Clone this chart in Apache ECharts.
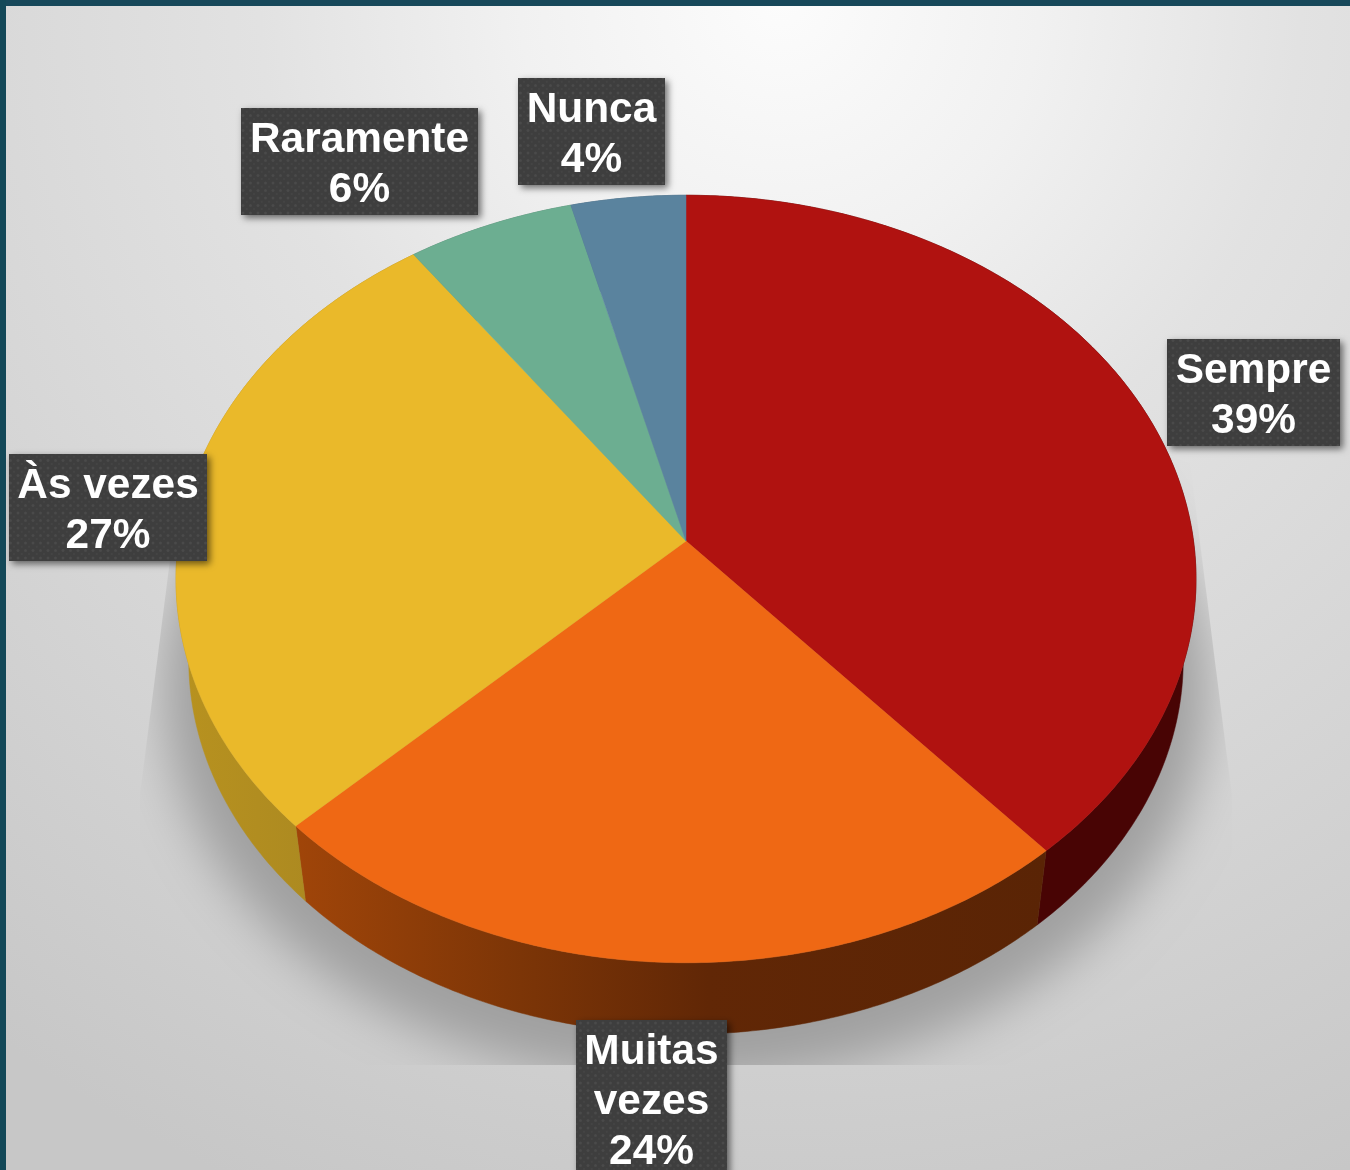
<!DOCTYPE html>
<html>
<head>
<meta charset="utf-8">
<style>html,body{margin:0;padding:0;background:#fff}#c{width:1350px;height:1170px}</style>
<script src="https://cdn.jsdelivr.net/npm/echarts@6/dist/echarts.min.js"></script>
</head>
<body>
<div id="c"></div>
<script>
// ---- data (printed labels are these values rounded) ----
const categories = ['Sempre', 'Muitas\nvezes', 'Às vezes', 'Raramente', 'Nunca'];
const values = [38.6, 24.1, 27.45, 5.85, 4];

// ---- styles ----
const topColors = ['#b01210', '#ef6814', '#eab92a', '#6cae91', '#5a839e'];
const wallColors = [
  [[0, '#480404'], [1, '#480404']],
  [[0, '#a04509'], [0.3, '#7c3507'], [0.55, '#612706'], [1, '#5a2405']],
  [[0, '#b8921f'], [1, '#a38322']],
  [[0, '#4c7a66'], [1, '#4c7a66']],
  [[0, '#3f5c70'], [1, '#3f5c70']]
];
// label boxes: left, top, right, bottom
const labelBoxes = [
  [1167, 339, 1340, 446],
  [576, 1020, 727, 1177],
  [9, 454, 207, 561],
  [241, 108, 478, 215],
  [518, 78, 665, 185]
];
// ---- disc geometry ----
const CX = 686, CY = 541, A = 507.5, B = 380, K = 0.099;
const BOTTOM_SCALE = 0.975, BOTTOM_DROP = 82;
const OFFSCREEN = 3000;
const total = values.reduce((a, b) => a + b, 0);
const starts = values.map((_, i) => values.slice(0, i).reduce((a, b) => a + b, 0));

function rim(theta, bottom) {
  const s = Math.sin(theta), c = Math.cos(theta), w = 1 + K * c;
  const x = A * s / w, y = -B * c / w;
  return bottom
    ? [CX + BOTTOM_SCALE * x, CY + BOTTOM_DROP + BOTTOM_SCALE * y]
    : [CX + x, CY + y];
}
function arc(pctA, pctB, bottom) {
  const n = Math.max(2, Math.ceil((pctB - pctA) * 6)), pts = [];
  for (let i = 0; i <= n; i++) {
    pts.push(rim((pctA + (pctB - pctA) * i / n) / total * 2 * Math.PI, bottom));
  }
  return pts;
}
function grad(stops, x0, x1) {
  return new echarts.graphic.LinearGradient(x0, 0, x1, 0,
    stops.map(s => ({offset: s[0], color: s[1]})), true);
}

// dotted fill of the label boxes
const tile = document.createElement('canvas');
tile.width = 15; tile.height = 15;
(function () {
  const g = tile.getContext('2d');
  g.fillStyle = '#3e3e3e'; g.fillRect(0, 0, 15, 15);
  g.fillStyle = '#4a4a4a';
  [[3, 3], [10.5, 3], [3, 10.5], [10.5, 10.5]].forEach(p => {
    g.beginPath(); g.arc(p[0], p[1], 1.5, 0, 7); g.fill();
  });
  g.fillStyle = '#444444';
  [[6.75, 6.75], [14, 6.75], [6.75, 14], [14, 14]].forEach(p => {
    g.beginPath(); g.arc(p[0], p[1], 1.2, 0, 7); g.fill();
  });
})();

const seriesData = values.map((v, i) => ({name: categories[i], value: [v, starts[i]]}));

const chart = echarts.init(document.getElementById('c'), null, {renderer: 'canvas'});
chart.setOption({
  animation: false,
  backgroundColor: '#ffffff',
  graphic: [
    {type: 'rect', z: -10, silent: true, shape: {x: 0, y: 0, width: 1350, height: 1170},
      style: {fill: new echarts.graphic.RadialGradient(780, 0, 1300, [
        {offset: 0, color: '#fcfcfc'}, {offset: 0.2, color: '#f1f1f1'},
        {offset: 0.4, color: '#e2e2e2'}, {offset: 0.6, color: '#d9d9d9'},
        {offset: 0.8, color: '#d0d0d0'}, {offset: 1, color: '#c7c7c7'}], true)}},
    {type: 'rect', z: 100, silent: true, shape: {x: 0, y: 0, width: 1350, height: 6}, style: {fill: '#17485a'}},
    {type: 'rect', z: 100, silent: true, shape: {x: 0, y: 0, width: 6, height: 1170}, style: {fill: '#134858'}}
  ],
  series: [
    { // soft cast shadow: only the blur is seen, cut off along straight edges as in the reference
      type: 'custom', coordinateSystem: 'none', silent: true, z: 1,
      data: [[0]],
      renderItem() {
        const pts = arc(0, total, true).map(p => [
          CX + (p[0] - CX) * 1.05 - OFFSCREEN,
          CY + 82 + (p[1] - CY - 82) * 1.05 + 28
        ]);
        return {
          type: 'polygon',
          shape: {points: pts},
          style: {fill: '#a4a4a4', shadowBlur: 50, shadowColor: '#a0a0a0', shadowOffsetX: OFFSCREEN},
          clipPath: {type: 'polygon', shape: {points: [
            [686, 300], [1190, 463], [1232, 797], [1232, 1065],
            [140, 1065], [140, 795], [170, 560]
          ]}}
        };
      }
    },
    { // outer wall
      type: 'custom', coordinateSystem: 'none', silent: true, z: 2,
      data: seriesData,
      renderItem(params, api) {
        const v = api.value(0), s = api.value(1), i = params.dataIndex;
        const t = arc(s, s + v, false), b = arc(s, s + v, true).reverse();
        const xs = t.concat(b).map(p => p[0]);
        const x0 = Math.min.apply(null, xs), x1 = Math.max.apply(null, xs);
        const fill = grad(wallColors[i], x0, x1);
        return {type: 'polygon', shape: {points: t.concat(b)}, style: {fill, stroke: fill, lineWidth: 0.5}};
      }
    },
    { // top face
      type: 'custom', coordinateSystem: 'none', silent: true, z: 3,
      data: seriesData,
      renderItem(params, api) {
        const v = api.value(0), s = api.value(1), c = topColors[params.dataIndex];
        return {type: 'polygon', shape: {points: [[CX, CY]].concat(arc(s, s + v, false))},
          style: {fill: c, stroke: c, lineWidth: 0.5}};
      }
    },
    { // labels
      type: 'custom', coordinateSystem: 'none', silent: true, z: 4,
      data: seriesData,
      renderItem(params, api) {
        const i = params.dataIndex, b = labelBoxes[i];
        return {type: 'group', children: [
          {type: 'rect', shape: {x: b[0], y: b[1], width: b[2] - b[0], height: b[3] - b[1]},
            style: {fill: {image: tile, repeat: 'repeat'}, shadowBlur: 7,
              shadowColor: 'rgba(0,0,0,0.55)', shadowOffsetX: 3, shadowOffsetY: 3}},
          {type: 'text', z2: 5, style: {
            text: categories[i] + '\n' + Math.round(api.value(0)) + '%',
            x: (b[0] + b[2]) / 2, y: (b[1] + b[3]) / 2 + 4,
            align: 'center', verticalAlign: 'middle',
            fill: '#ffffff', lineHeight: 50,
            font: 'bold 42.4px "Liberation Sans", Arial, sans-serif'}}
        ]};
      }
    }
  ]
});
</script>
</body>
</html>
